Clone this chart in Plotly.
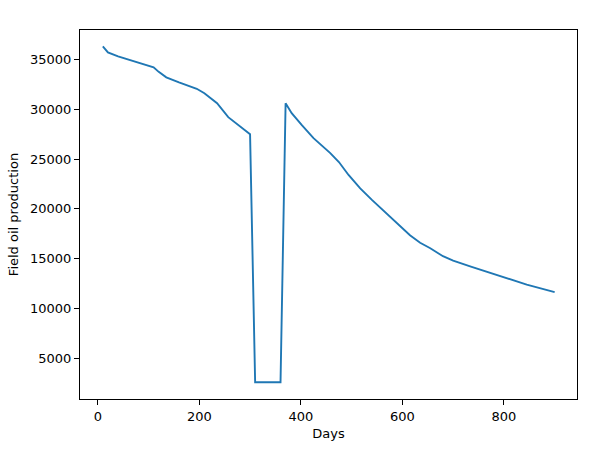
import plotly.graph_objects as go

# Field oil production over time
days = [10, 20, 40, 70, 100, 110, 120, 135, 160, 195, 210, 235, 257, 275, 300,
        310, 360, 370, 382, 402, 425, 458, 475, 494, 517, 540, 565, 590, 615,
        635, 655, 680, 700, 735, 770, 800, 845, 900]
fopt = [36300, 35700, 35300, 34850, 34400, 34200, 33750, 33200, 32700, 32050,
        31600, 30600, 29200, 28500, 27500, 2600, 2600, 30600, 29600, 28400,
        27100, 25600, 24700, 23400, 22050, 20900, 19700, 18550, 17350, 16600,
        16050, 15250, 14800, 14200, 13650, 13100, 12400, 11650]

x_ticks = [0, 200, 400, 600, 800]
y_ticks = [5000, 10000, 15000, 20000, 25000, 30000, 35000]

fig = go.Figure(
    data=go.Scatter(x=days, y=fopt, mode='lines',
                    line=dict(color='#1f77b4', width=1.9)),
    layout=go.Layout(
        width=598, height=451,
        paper_bgcolor='white', plot_bgcolor='white',
        margin=dict(l=80, r=21, t=30, b=52),
        font=dict(family='DejaVu Sans', size=13, color='black'),
        showlegend=False,
    ))

axis_style = dict(showline=True, linecolor='black', linewidth=1, mirror=True,
                  showgrid=False, zeroline=False, ticks='outside', ticklen=5,
                  tickwidth=1, tickcolor='black', automargin=False)

fig.update_xaxes(range=[-35, 944], tickvals=x_ticks,
                 ticktext=[str(v) for v in x_ticks],
                 title=dict(text='Days', standoff=6, font=dict(size=13)),
                 **axis_style)
fig.update_yaxes(range=[920, 37950], tickvals=y_ticks,
                 ticktext=[str(v) for v in y_ticks],
                 title=dict(text='Field oil production', standoff=8,
                            font=dict(size=13)),
                 **axis_style)

# drop the default page margin so the figure sits at the window's corner
fig.write_html("out.html", config={'displayModeBar': False},
               post_script="document.body.style.margin='0';")
